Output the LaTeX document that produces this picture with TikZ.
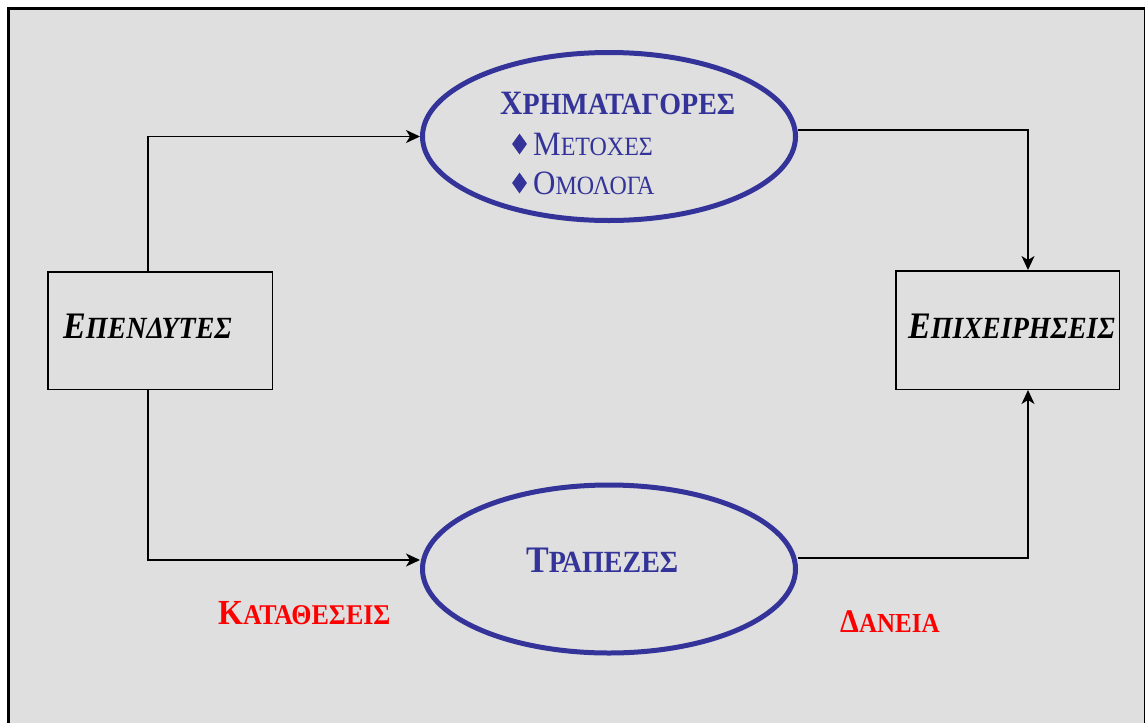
\documentclass[tikz,border=0pt]{standalone}
\usepackage{fontspec}
\usepackage{graphicx}
\setmainfont{Liberation Serif}
\usetikzlibrary{arrows.meta,shapes.geometric}
\definecolor{bgray}{RGB}{223,223,223}
\definecolor{dblue}{RGB}{51,51,153}
\newcommand\SCap[4]{\scalebox{1}[1.1]{{\fontsize{#1}{#1}\selectfont #3}{\fontsize{#2}{#2}\selectfont #4}}}
\begin{document}
\begin{tikzpicture}[x=1pt,y=-1pt,
  box/.style={draw=black,line width=1.5pt,inner sep=0pt},
  ell/.style={draw=dblue,line width=5pt,ellipse,minimum width=373pt,minimum height=168pt,inner sep=0pt},
  conn/.style={draw=black,line width=1.3pt},
  arr/.style={conn,-{Stealth[length=14pt,width=13pt,inset=4pt]}},
  lbl/.style={anchor=base west,inner sep=0pt},
  dia/.style={diamond,fill=dblue,minimum width=15pt,minimum height=21pt,inner sep=0pt}]
\useasboundingbox (0,0) rectangle (1145,723);
\fill[white] (0,0) rectangle (1145,723);
\fill[bgray] (8,8) rectangle (1145,723);
\draw[line width=3pt] (8,723) -- (8,8) -- (1145,8);
\draw[line width=1.5pt] (1144.25,8) -- (1144.25,723);

\node[ell] (xr) at (609,136.5) {};
\node[ell] (tr) at (609,569) {};
\node[box,minimum width=224.5pt,minimum height=117.5pt] (ep) at (160,330.5) {};
\node[box,minimum width=223.5pt,minimum height=118.5pt] (ei) at (1007.5,330) {};

\draw[arr] ([xshift=-12pt]ep.north) |- (xr.west);
\draw[arr] ([xshift=-12pt]ep.south) |- ([yshift=9pt]tr.west);
\draw[arr] ([yshift=6.5pt]xr.east) -| ([xshift=20.5pt]ei.north);
\draw[arr] ([yshift=11pt]tr.east) -| ([xshift=20.5pt]ei.south);

\node[lbl,text=dblue] (t1) at (500,114) {\bfseries\SCap{31}{28}{Χ}{ΡΗΜΑΤΑΓΟΡΕΣ}};
\node[dia] (d1) at (519.5,144) {};
\node[lbl,text=dblue] (t2) at (533,155) {\SCap{31}{24}{Μ}{ΕΤΟΧΕΣ}};
\node[dia] (d2) at (519.5,183) {};
\node[lbl,text=dblue] (t3) at (533,194) {\SCap{31}{24}{Ο}{ΜΟΛΟΓΑ}};
\node[lbl,text=dblue] (t4) at (526,572) {\bfseries\SCap{34}{28}{Τ}{ΡΑΠΕΖΕΣ}};
\node[lbl] (t5) at (63,338) {\bfseries\itshape\SCap{34}{28}{Ε}{ΠΕΝΔΥΤΕΣ}};
\node[lbl] (t6) at (908,338) {\bfseries\itshape\SCap{34}{28}{Ε}{ΠΙΧΕΙΡΗΣΕΙΣ}};
\node[lbl,text=red] (t7) at (218,624) {\bfseries\SCap{32}{26}{Κ}{ΑΤΑΘΕΣΕΙΣ}};
\node[lbl,text=red] (t8) at (840,632) {\bfseries\SCap{30}{25}{Δ}{ΑΝΕΙΑ}};
\end{tikzpicture}
\end{document}
